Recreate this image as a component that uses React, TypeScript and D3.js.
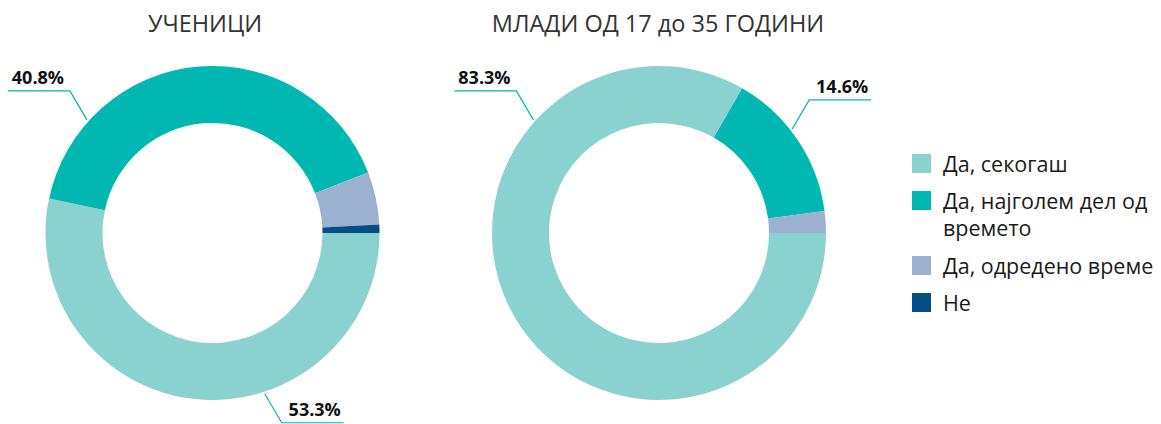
import React from "react";
import * as d3 from "d3";

const categories = ["Да, секогаш", "Да, најголем дел од времето", "Да, одредено време", "Не"];
const legendLines = [["Да, секогаш"], ["Да, најголем дел од", "времето"], ["Да, одредено време"], ["Не"]];
const colors = ["#89D2CF", "#00B8B1", "#9CB1CF", "#034E86"];

const titles = ["УЧЕНИЦИ", "МЛАДИ ОД 17 до 35 ГОДИНИ"];
const studentsValues = [53.3, 40.8, 5.1, 0.8];
const youthValues = [83.3, 14.6, 2.1, 0];
const series = [studentsValues, youthValues];

// which slices get a label, and at which angle (degrees, clockwise from 12 o'clock) the leader starts
const labelSlices = [
  [{ idx: 1, angle: 312 }, { idx: 0, angle: 162 }],
  [{ idx: 0, angle: 312 }, { idx: 1, angle: 52 }],
];

const W = 1161;
const H = 424;
const centers = [
  { x: 212.5, y: 233 },
  { x: 659, y: 233 },
];
const titleX = [205, 658];
const outerR = 167;
const innerR = 110;

export default function App() {
  const pie = d3
    .pie<number>()
    .sort(null)
    .value((d) => d)
    .startAngle(Math.PI / 2)
    .endAngle(Math.PI / 2 + 2 * Math.PI);
  const arc = d3.arc<d3.PieArcDatum<number>>().innerRadius(innerR).outerRadius(outerR);
  const color = d3.scaleOrdinal<number, string>().domain(d3.range(categories.length)).range(colors);

  const font = "'Open Sans', 'Noto Sans', sans-serif";

  return (
    <svg
      width={W}
      height={H}
      style={{ position: "absolute", left: 0, top: 0, display: "block", background: "#fff" }}
      fontFamily={font}
    >
      {series.map((vals, si) => {
        const c = centers[si];
        const arcs = pie(vals);
        return (
          <g key={si}>
            <text x={titleX[si]} y={32} textAnchor="middle" fontSize={23.5} fill="#333">
              {titles[si]}
            </text>
            <g transform={`translate(${c.x},${c.y})`}>
              {arcs.map((a, i) =>
                a.value > 0 ? <path key={i} d={arc(a) || ""} fill={color(i)} /> : null
              )}
              {labelSlices[si].map((l, k) => {
                const ang = (l.angle * Math.PI) / 180;
                const r = outerR + 2;
                const sx0 = r * Math.sin(ang);
                const sy0 = -r * Math.cos(ang);
                const dx = sx0 >= 0 ? 1 : -1;
                const dy = sy0 >= 0 ? 1 : -1;
                const ex = sx0 + dx * 17;
                const ey = sy0 + dy * 29;
                const hx = ex + dx * 62;
                const midx = (ex + hx) / 2;
                return (
                  <g key={k}>
                    <polyline
                      points={`${sx0},${sy0} ${ex},${ey} ${hx},${ey}`}
                      fill="none"
                      stroke="#00B5AD"
                      strokeWidth={1.2}
                    />
                    <text
                      x={midx + (dx > 0 ? 2 : -1)}
                      y={ey - 7}
                      textAnchor="middle"
                      fontSize={18}
                      fontWeight={700}
                      fill="#111"
                    >
                      {`${d3.format(".1f")(vals[l.idx])}%`}
                    </text>
                  </g>
                );
              })}
            </g>
          </g>
        );
      })}
      <g>
        {legendLines.map((lines, i) => {
          const tops = [154, 191, 256, 293];
          const y0 = tops[i];
          return (
            <g key={i}>
              <rect x={912} y={y0} width={19} height={19} fill={color(i)} />
              <text x={943} y={y0 + 17.5} fontSize={21.5} fill="#1a1a1a">
                {lines.map((ln, j) => (
                  <tspan key={j} x={943} dy={j === 0 ? 0 : 27}>
                    {ln}
                  </tspan>
                ))}
              </text>
            </g>
          );
        })}
      </g>
    </svg>
  );
}
